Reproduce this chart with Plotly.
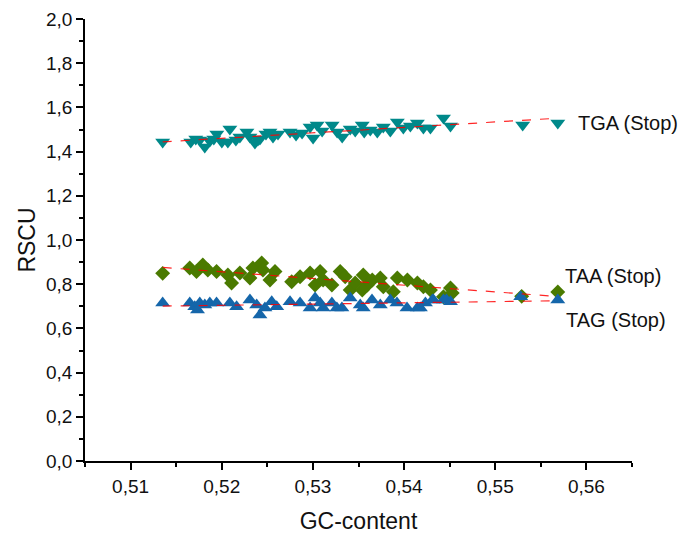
import numpy as np
import plotly.graph_objects as go

# GC-content of each genome and RSCU of the three stop codons
tga_gc = [0.51352, 0.51660, 0.51715, 0.51759, 0.51814, 0.51869, 0.51913, 0.51946,
          0.52001, 0.52067, 0.52089, 0.52155, 0.52199, 0.52276, 0.52309, 0.52364,
          0.52397, 0.52419, 0.52485, 0.52529, 0.52562, 0.52617, 0.52749, 0.52815,
          0.52881, 0.52969, 0.53002, 0.53046, 0.53101, 0.53211, 0.53266, 0.53321,
          0.53409, 0.53464, 0.53541, 0.53563, 0.53629, 0.53706, 0.53772, 0.53849,
          0.53926, 0.53992, 0.54069, 0.54146, 0.54212, 0.54289, 0.54432, 0.54509,
          0.55301, 0.55686]
tga_rscu = [1.443, 1.443, 1.457, 1.452, 1.421, 1.448, 1.457, 1.480,
            1.443, 1.443, 1.502, 1.452, 1.466, 1.489, 1.466, 1.439,
            1.452, 1.457, 1.480, 1.489, 1.466, 1.480, 1.489, 1.475,
            1.484, 1.511, 1.462, 1.520, 1.493, 1.520, 1.489, 1.466,
            1.502, 1.493, 1.520, 1.489, 1.498, 1.489, 1.511, 1.493,
            1.534, 1.507, 1.516, 1.529, 1.507, 1.507, 1.552, 1.516,
            1.520, 1.529]

taa_gc = [0.51352, 0.51649, 0.51723, 0.51792, 0.51847, 0.51943, 0.52067, 0.52108,
          0.52199, 0.52309, 0.52342, 0.52438, 0.52452, 0.52529, 0.52584, 0.52767,
          0.52859, 0.52969, 0.53024, 0.53079, 0.53112, 0.53208, 0.53299, 0.53354,
          0.53409, 0.53464, 0.53552, 0.53596, 0.53541, 0.53651, 0.53739, 0.53772,
          0.53882, 0.53926, 0.54036, 0.54146, 0.54212, 0.54289, 0.54432, 0.54509,
          0.54528, 0.55290, 0.55686]
taa_rscu = [0.849, 0.873, 0.857, 0.887, 0.864, 0.857, 0.842, 0.805,
            0.851, 0.828, 0.873, 0.896, 0.864, 0.819, 0.857, 0.811,
            0.834, 0.851, 0.796, 0.857, 0.819, 0.796, 0.857, 0.834,
            0.774, 0.805, 0.842, 0.796, 0.774, 0.819, 0.828, 0.788,
            0.766, 0.828, 0.819, 0.805, 0.788, 0.774, 0.743, 0.783,
            0.760, 0.745, 0.765]

tag_gc = [0.51352, 0.51649, 0.51704, 0.51759, 0.51814, 0.51869, 0.51943, 0.51734,
          0.52089, 0.52163, 0.52309, 0.52383, 0.52419, 0.52474, 0.52548, 0.52603,
          0.52749, 0.52859, 0.52969, 0.53024, 0.53079, 0.53112, 0.53208, 0.53263,
          0.53318, 0.53409, 0.53519, 0.53552, 0.53648, 0.53739, 0.53849, 0.53922,
          0.54032, 0.54146, 0.54234, 0.54322, 0.54432, 0.54179, 0.54311, 0.54465,
          0.54509, 0.55279, 0.55686]
tag_rscu = [0.715, 0.715, 0.698, 0.715, 0.706, 0.715, 0.715, 0.683,
            0.715, 0.698, 0.729, 0.706, 0.661, 0.692, 0.721, 0.698,
            0.721, 0.715, 0.692, 0.738, 0.715, 0.692, 0.715, 0.692,
            0.692, 0.738, 0.706, 0.692, 0.729, 0.706, 0.729, 0.715,
            0.692, 0.692, 0.715, 0.729, 0.729, 0.692, 0.729, 0.729,
            0.721, 0.743, 0.729]

series = [
    ("TGA (Stop)", tga_gc, tga_rscu, "triangle-down", 13, "#00898A", (18, 0)),
    ("TAA (Stop)", taa_gc, taa_rscu, "diamond", 11.5, "#4A7A00", (5, 16)),
    ("TAG (Stop)", tag_gc, tag_rscu, "triangle-up", 13, "#1566AA", (6, -20)),
]

FONT = "Liberation Sans, Arial, sans-serif"

fig = go.Figure()
annotations = []
for name, gc, rscu, symbol, size, color, (dx, dy) in series:
    fig.add_trace(go.Scatter(
        x=gc, y=rscu, mode="markers", name=name,
        marker=dict(symbol=symbol, size=size, color=color, line=dict(width=0)),
        showlegend=False, cliponaxis=False,
    ))

for name, gc, rscu, symbol, size, color, (dx, dy) in series:
    # least-squares trend line over the observed GC range
    slope, intercept = np.polyfit(gc, rscu, 1)
    xs = np.array([min(gc), max(gc)])
    fig.add_trace(go.Scatter(
        x=xs, y=slope * xs + intercept, mode="lines",
        line=dict(color="rgba(255,0,0,0.85)", width=1.2, dash="dash"),
        showlegend=False, hoverinfo="skip",
    ))
    i = int(np.argmax(gc))
    annotations.append(dict(
        x=gc[i], y=rscu[i], xref="x", yref="y", text=name, showarrow=False,
        xanchor="left", yanchor="middle", xshift=dx, yshift=dy,
        font=dict(family=FONT, size=20, color="#111111"),
    ))

axis_common = dict(
    showgrid=False, zeroline=False, showline=True, linecolor="black", linewidth=1.5,
    ticks="outside", ticklen=7, tickwidth=1.5, tickcolor="black",
    tickfont=dict(family=FONT, size=19, color="#111111"),
    mirror=False, automargin=False,
)

fig.update_layout(
    width=681, height=534,
    margin=dict(l=85, r=49, t=19, b=73),
    paper_bgcolor="white", plot_bgcolor="white",
    separators=", ",
    annotations=annotations,
    xaxis=dict(
        range=[0.505, 0.565], dtick=0.01, tick0=0.51, tickformat=".2f",
        minor=dict(dtick=0.005, tick0=0.505, ticks="outside", ticklen=4,
                   tickwidth=1.5, tickcolor="black"),
        title=dict(text="GC-content", standoff=17,
                   font=dict(family=FONT, size=23, color="#111111")),
        **axis_common,
    ),
    yaxis=dict(
        range=[0, 2], dtick=0.2, tick0=0, tickformat=".1f",
        minor=dict(dtick=0.1, tick0=0, ticks="outside", ticklen=4,
                   tickwidth=1.5, tickcolor="black"),
        title=dict(text="RSCU", standoff=4,
                   font=dict(family=FONT, size=23, color="#111111")),
        **axis_common,
    ),
)

fig.write_html("out.html")
